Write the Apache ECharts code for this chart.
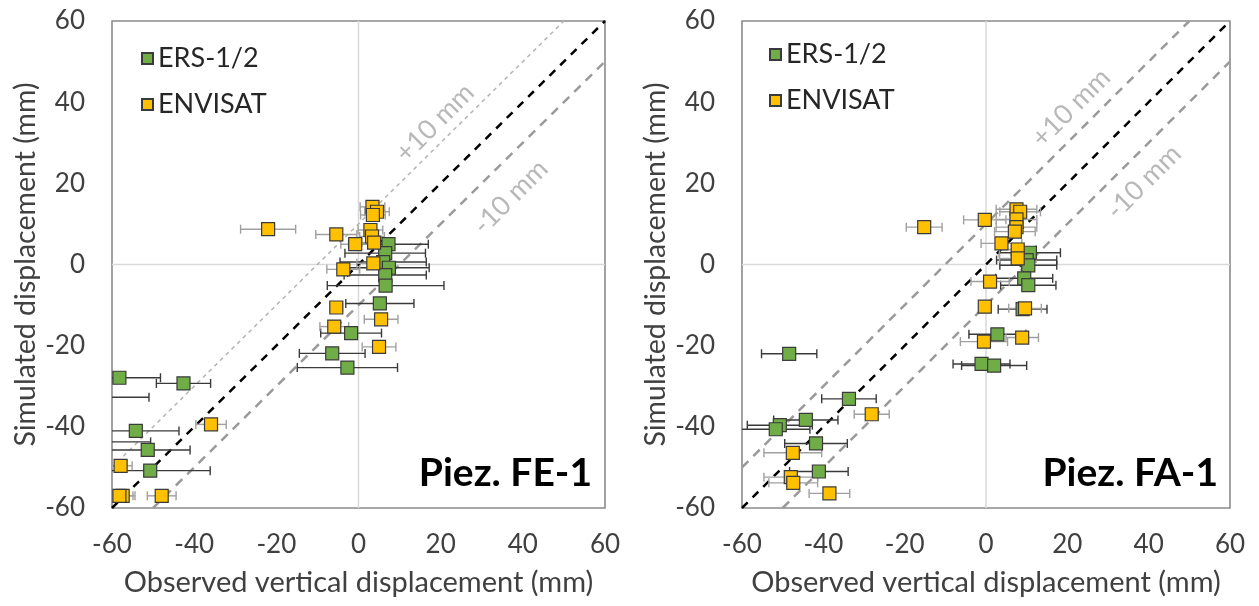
<!DOCTYPE html>
<html>
<head>
<meta charset="utf-8">
<script src="https://cdn.jsdelivr.net/npm/echarts@6/dist/echarts.min.js"></script>
<style>
html,body{margin:0;padding:0;background:#fff;}
#chart{width:1259px;height:606px;}
</style>
</head>
<body>
<div id="chart"></div>
<script>
// ---- Data: [observed x, simulated y, x error half-width] ----
const feErs = [
  [-58.2, -27.9, 10], [-42.6, -29.3, 6.6], [-64, -32.7, 13], [-54.2, -41.0, 10.5],
  [-64, -43.7, 13.4], [-51.3, -45.7, 10.3], [-50.7, -50.8, 14.6],
  [7.3, 5.0, 9.7], [6.5, 2.8, 9.8], [6.0, 0.6, 10.5], [7.4, -0.8, 9.8],
  [6.5, -2.6, 10], [6.6, -5.2, 14.2], [5.2, -9.6, 8.3], [-1.8, -16.9, 7.4],
  [-6.4, -21.9, 8], [-2.7, -25.4, 12.2]
];
const feEnv = [
  [-22.0, 8.7, 6.7], [-5.4, 7.4, 5], [3.4, 14.2, 3], [4.5, 13.0, 3], [3.5, 12.2, 3],
  [2.9, 8.5, 3], [3.3, 6.9, 3], [3.8, 5.4, 3], [-0.8, 5.0, 3.5], [3.6, 0.3, 4],
  [-3.7, -1.2, 4], [-5.4, -10.6, 1.5], [5.5, -13.5, 4.1], [-5.9, -15.3, 3.5],
  [5.0, -20.3, 4.1], [-35.9, -39.4, 3.7], [-57.9, -49.6, 2.8], [-57.4, -57.0, 3],
  [-58.2, -57.0, 3.3], [-47.9, -57.0, 3.5]
];
const faErs = [
  [-48.4, -22.0, 6.8], [-33.7, -33.1, 6.7], [-44.3, -38.3, 7.9], [-50.7, -39.6, 8],
  [-51.7, -40.6, 8.4], [-41.8, -44.1, 7.7], [-41.1, -51.0, 7.2],
  [10.8, 2.9, 7.5], [10.0, 1.1, 7.4], [10.4, -0.2, 7], [9.4, -3.4, 7],
  [10.4, -5.1, 6.8], [9.0, -11.0, 6], [2.8, -17.2, 7], [-1.1, -24.5, 7], [2.0, -24.9, 8]
];
const faEnv = [
  [-15.2, 9.2, 4.4], [-0.3, 11.0, 5.2], [7.5, 13.6, 5], [8.4, 13.0, 5], [7.5, 11.1, 5],
  [7.5, 9.2, 5], [7.1, 8.1, 5], [3.8, 5.2, 5], [7.8, 3.7, 4.5], [7.8, 1.5, 4.5],
  [1.0, -4.2, 4.7], [-0.3, -10.4, 1], [9.6, -10.8, 4], [-0.5, -19.0, 5.8], [8.9, -18.0, 4],
  [-28.1, -36.9, 4.3], [-47.5, -46.4, 7.1], [-48.0, -52.4, 6.6], [-47.4, -53.8, 6],
  [-38.5, -56.4, 5]
];
const axisTicks = [-60, -40, -20, 0, 20, 40, 60];
const oneToOne = [[-60, -60], [60, 60]];
const plusTen = [[-60, -50], [50, 60]];
const minusTen = [[-50, -60], [60, 50]];
const zeroH = [[-60, 0], [60, 0]];
const zeroV = [[0, -60], [0, 60]];
const feLabelPos = { plus: [18.6, 34.9], minus: [37.0, 16.6] };
const faLabelPos = { plus: [20.9, 38.6], minus: [38.8, 20.3] };
const panelNames = ['Piez. FE-1', 'Piez. FA-1'];
const seriesNames = ['ERS-1/2', 'ENVISAT'];

const GREEN = '#70AD47', YELLOW = '#FFC000';
const FONT = 'Lato';

function errBarSeries(data, idx, color) {
  return {
    type: 'custom', xAxisIndex: idx, yAxisIndex: idx, z: 3, silent: true,
    data: data,
    renderItem: function (params, api) {
      const cs = params.coordSys;
      const x = api.value(0), y = api.value(1), e = api.value(2);
      const pa = api.coord([x - e, y]), pb = api.coord([x + e, y]);
      const xmin = cs.x, xmax = cs.x + cs.width, ymin = cs.y, ymax = cs.y + cs.height;
      const py = pa[1];
      if (py < ymin || py > ymax) return null;
      const l = Math.max(pa[0], xmin), r = Math.min(pb[0], xmax);
      const children = [];
      const st = { stroke: color, lineWidth: 1.4 };
      if (r > l) children.push({ type: 'line', shape: { x1: l, y1: py, x2: r, y2: py }, style: st });
      const cap = 4.5;
      if (pa[0] >= xmin) children.push({ type: 'line', shape: { x1: pa[0], y1: py - cap, x2: pa[0], y2: py + cap }, style: st });
      if (pb[0] <= xmax) children.push({ type: 'line', shape: { x1: pb[0], y1: py - cap, x2: pb[0], y2: py + cap }, style: st });
      return { type: 'group', children: children };
    }
  };
}
function pointSeries(name, data, idx, color) {
  return {
    name: name, type: 'scatter', xAxisIndex: idx, yAxisIndex: idx, z: 5,
    symbol: 'rect', symbolSize: 13, clip: true,
    itemStyle: { color: color, borderColor: '#3a3a3a', borderWidth: 1.2, opacity: 1 },
    data: data.map(d => [d[0], d[1]])
  };
}
function lineSeries(data, idx, color, width, dash, z) {
  return {
    type: 'line', xAxisIndex: idx, yAxisIndex: idx, data: data, symbol: 'none', silent: true, z: z,
    lineStyle: { color: color, width: width, type: dash }, animation: false
  };
}
function textSeries(pos, text, idx) {
  return {
    type: 'scatter', xAxisIndex: idx, yAxisIndex: idx, symbolSize: 0, silent: true, z: 2,
    data: [pos],
    label: { show: true, position: 'inside', formatter: text, rotate: 45, fontSize: 27, color: '#a6a6a6', fontFamily: FONT }
  };
}

const grids = [
  { left: 112, top: 21, width: 493, height: 487 },
  { left: 742, top: 21, width: 488, height: 487 }
];
function xAxis(idx) {
  return {
    gridIndex: idx, type: 'value', min: axisTicks[0], max: axisTicks[axisTicks.length - 1], interval: 20,
    axisLine: { show: false }, axisTick: { show: false }, splitLine: { show: false },
    axisLabel: { fontSize: 26, color: '#404040', margin: 24, fontFamily: FONT },
    name: 'Observed vertical displacement (mm)', nameLocation: 'middle', nameGap: 60,
    nameTextStyle: { fontSize: 29, color: '#404040', fontFamily: FONT }
  };
}
function yAxis(idx) {
  return {
    gridIndex: idx, type: 'value', min: axisTicks[0], max: axisTicks[axisTicks.length - 1], interval: 20,
    axisLine: { show: false }, axisTick: { show: false }, splitLine: { show: false },
    axisLabel: { fontSize: 26, color: '#404040', margin: 27, fontFamily: FONT },
    name: 'Simulated displacement (mm)', nameLocation: 'middle', nameGap: 72,
    nameTextStyle: { fontSize: 28.5, color: '#404040', fontFamily: FONT }
  };
}

const series = [];
// panel 0
series.push(lineSeries(zeroH, 0, '#d9d9d9', 1.5, 'solid', 1));
series.push(lineSeries(zeroV, 0, '#d9d9d9', 1.5, 'solid', 1));
series.push(lineSeries(plusTen, 0, '#b4b4b4', 1.5, [4, 4], 2));
series.push(lineSeries(minusTen, 0, '#9a9a9a', 2.5, [9, 7], 2));
series.push(lineSeries(oneToOne, 0, '#000000', 2.5, [8, 7], 2));
series.push(textSeries(feLabelPos.plus, '+10 mm', 0));
series.push(textSeries(feLabelPos.minus, '-10 mm', 0));
series.push(errBarSeries(feErs, 0, '#3a3a3a'));
series.push(errBarSeries(feEnv, 0, '#a0a0a0'));
series.push(pointSeries(seriesNames[0], feErs, 0, GREEN));
series.push(pointSeries(seriesNames[1], feEnv, 0, YELLOW));
// panel 1
series.push(lineSeries(zeroH, 1, '#d9d9d9', 1.5, 'solid', 1));
series.push(lineSeries(zeroV, 1, '#d9d9d9', 1.5, 'solid', 1));
series.push(lineSeries(plusTen, 1, '#9a9a9a', 2.5, [9, 7], 2));
series.push(lineSeries(minusTen, 1, '#9a9a9a', 2.5, [9, 7], 2));
series.push(lineSeries(oneToOne, 1, '#000000', 2.5, [8, 7], 2));
series.push(textSeries(faLabelPos.plus, '+10 mm', 1));
series.push(textSeries(faLabelPos.minus, '-10 mm', 1));
series.push(errBarSeries(faErs, 1, '#3a3a3a'));
series.push(errBarSeries(faEnv, 1, '#a0a0a0'));
series.push(pointSeries(seriesNames[0], faErs, 1, GREEN));
series.push(pointSeries(seriesNames[1], faEnv, 1, YELLOW));

const legendBase = {
  orient: 'vertical', itemWidth: 11, itemHeight: 11, itemGap: 19, icon: 'rect',
  textStyle: { fontSize: 27, color: '#262626', fontFamily: FONT }, selectedMode: false,
  data: seriesNames
};

const chart = echarts.init(document.getElementById('chart'), null, { renderer: 'canvas' });
chart.setOption({
  animation: false,
  backgroundColor: '#ffffff',
  textStyle: { fontFamily: FONT },
  grid: grids.map(g => Object.assign({ show: true, borderColor: '#8a8a8a', borderWidth: 1.6, backgroundColor: 'transparent' }, g)),
  xAxis: [xAxis(0), xAxis(1)],
  yAxis: [yAxis(0), yAxis(1)],
  legend: [
    Object.assign({ left: 136, top: 40 }, legendBase),
    Object.assign({ left: 764, top: 36 }, legendBase)
  ],
  title: [
    { text: panelNames[0], right: 1259 - 597, top: 449, textStyle: { fontSize: 39, fontWeight: 'bold', color: '#000', fontFamily: FONT } },
    { text: panelNames[1], right: 1259 - 1223, top: 449, textStyle: { fontSize: 39, fontWeight: 'bold', color: '#000', fontFamily: FONT } }
  ],
  series: series
});
</script>
</body>
</html>
